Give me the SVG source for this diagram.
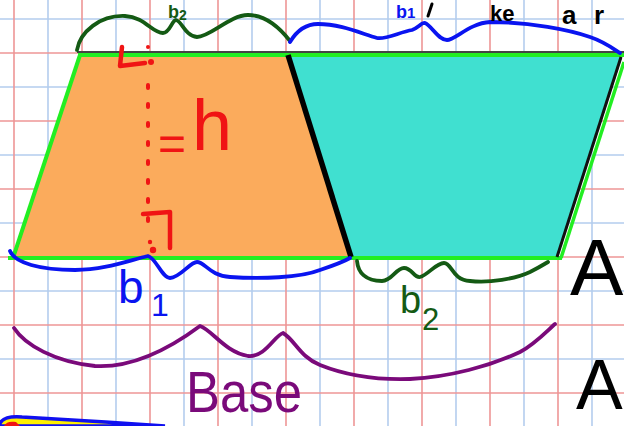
<svg xmlns="http://www.w3.org/2000/svg" width="624" height="426" viewBox="0 0 624 426">
<style>
.gb{stroke:#b4cdee;stroke-width:1.6}
.gr{stroke:#ee9696;stroke-width:1.6}
.ink{fill:none;stroke-linecap:round;stroke-linejoin:round}
.hand{font-family:"Liberation Sans","DejaVu Sans",sans-serif}
</style>
<rect width="624" height="426" fill="#ffffff"/>
<g id="grid">
<path class="gb" d="M48,0V426M116,0V426M184,0V426M252,0V426M320,0V426M388,0V426M456,0V426M524,0V426M592,0V426M0,19H624M0,87H624M0,155H624M0,223H624M0,291H624M0,359H624"/>
<path class="gr" d="M14,0V426M82,0V426M150,0V426M218,0V426M286,0V426M354,0V426M422,0V426M490,0V426M558,0V426M0,53H624M0,121H624M0,189H624M0,257H624M0,325H624M0,393H624"/>
</g>
<g id="orange-trapezoid">
<path d="M80,55 L289,55 L352,257 L14,257 Z" fill="#fbab5c" stroke="#333" stroke-width="1.5"/>
</g>
<g id="turquoise-trapezoid">
<path d="M289,55 L622,55 L557,257 L352,257 Z" fill="#40e0d0" stroke="#333" stroke-width="1.5"/>
</g>
<g id="edges">
<line x1="77" y1="52" x2="624" y2="52" stroke="#444" stroke-width="2"/>
<line x1="78" y1="55" x2="624" y2="55" stroke="#22ee22" stroke-width="4"/>
<line x1="8" y1="258" x2="562" y2="258" stroke="#22ee22" stroke-width="4"/>
<line x1="80" y1="55" x2="13" y2="258" stroke="#22ee22" stroke-width="4"/>
<line x1="624" y1="62" x2="561" y2="258" stroke="#22ee22" stroke-width="3.5"/>
<line x1="621" y1="57" x2="557" y2="257" stroke="#111" stroke-width="3"/>
<line x1="288" y1="55" x2="351" y2="257" stroke="#000" stroke-width="5.5"/>
</g>
<g id="height-marks" class="ink" stroke="#f01414" stroke-width="4.5">
<path d="M122,47 L120,66 L145,63"/>
<path d="M148,85 L148,236" stroke-dasharray="3 16" stroke-width="4"/>
<path d="M143,214 L170,212 L170,248"/>
<circle cx="148" cy="47" r="2" fill="#f01414" stroke="none"/>
<circle cx="151" cy="62" r="3" fill="#f01414" stroke="none"/>
<circle cx="150" cy="242" r="2.2" fill="#f01414" stroke="none"/>
<circle cx="153" cy="250" r="3.2" fill="#f01414" stroke="none"/>
</g>
<g id="braces" class="ink" stroke-width="3.8">
<path stroke="#145a14" d="M77,50 C80,32 100,15 125,16 C145,17 152,33 163,33 C170,33 172,20 176,20 C182,21 185,36 197,37 C210,37 230,15 248,15 C268,15 283,32 290,41"/>
<path stroke="#0a14f0" d="M290,42 C296,32 305,24 318,24 C340,24 360,33 377,38 C385,40 400,32 412,30 C418,28 422,22 425,23 C432,26 438,40 447,40 C455,40 470,23 490,22 C530,22 570,30 590,37 C605,42 615,50 620,53"/>
<path stroke="#0a14f0" d="M10,251 C15,263 40,270 75,270 C105,270 130,260 148,256 C156,258 162,278 170,278 C180,278 190,262 197,262 C205,262 210,276 230,277 C260,279 300,278 320,270 C335,265 343,262 350,258"/>
<path stroke="#145a14" d="M357,261 C358,272 365,281 382,281 C392,281 396,268 404,268 C412,268 414,278 420,277 C428,275 436,263 444,263 C452,263 452,280 470,281 C490,283 515,279 530,272 C538,268 543,265 548,262"/>
<path stroke="#7a0a7a" d="M14,328 C25,345 55,362 95,366 C130,368 165,352 200,326 C212,330 225,352 248,356 C265,358 275,335 283,333 C295,340 300,357 320,365 C350,377 380,380 410,379 C450,377 490,366 520,352 C535,344 548,330 555,324"/>
<line x1="432" y1="4" x2="428" y2="16" stroke="#000" stroke-width="3"/>
</g>
<g id="labels" class="hand">
<text x="168" y="18" font-size="18" font-weight="bold" fill="#145a14">b<tspan font-size="14" y="20">2</tspan></text>
<text x="396" y="18" font-size="18" font-weight="bold" fill="#0a14f0">b<tspan font-size="15">1</tspan></text>
<text x="490" y="21" font-size="22" font-weight="bold" fill="#000">ke</text>
<text x="562" y="24" font-size="26" font-weight="bold" fill="#000" textLength="42" lengthAdjust="spacing">ar</text>
<text x="158" y="160" font-size="48" fill="#f01414">=</text>
<text x="192" y="150" font-size="72" fill="#f01414">h</text>
<text x="118" y="303" font-size="46" fill="#0a14f0">b<tspan x="151" y="316" font-size="32">1</tspan></text>
<text x="400" y="313" font-size="38" fill="#145a14">b<tspan x="422" y="330" font-size="31">2</tspan></text>
<text x="186" y="412" font-size="58" fill="#7a0a7a" textLength="116" lengthAdjust="spacingAndGlyphs">Base</text>
<text x="570" y="295" font-size="80" fill="#000">A</text>
<text x="576" y="409" font-size="70" fill="#000">A</text>
</g>
<g id="corner-shape">
<path d="M0,426 L0,423 C3,418 10,416 22,417 C60,419 120,423 165,426 Z" fill="#fff000" stroke="#1010f0" stroke-width="3.5"/>
<path d="M4,426 C6,422 10,421 16,422 L20,426 Z" fill="#f01414"/>
</g>
</svg>
